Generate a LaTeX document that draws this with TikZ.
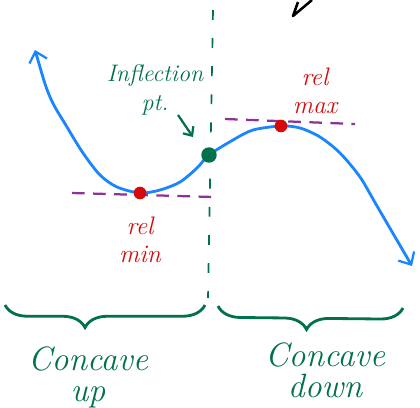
\documentclass[tikz,border=0pt]{standalone}
\usepackage{xcolor}
\usepackage{tikz}
\usetikzlibrary{arrows.meta,decorations.pathreplacing,calc}
\definecolor{curvec}{HTML}{1A85FF}
\definecolor{greenc}{HTML}{00704F}
\definecolor{redc}{HTML}{D50A0A}
\definecolor{purplec}{HTML}{8A3497}
\tikzset{
  barb/.tip={Straight Barb[length=7pt, width=13pt, line width=1.6pt]},
  curve/.style={draw=curvec, line width=2pt, {barb}-{barb}},
  vdash/.style={draw=greenc, line width=1.2pt, dash pattern=on 7pt off 13pt},
  hdash/.style={draw=purplec, line width=1.6pt, dash pattern=on 9pt off 6pt},
  dot/.style={circle, inner sep=0pt, minimum size=9pt},
  reddot/.style={dot, fill=redc},
  greendot/.style={dot, fill=greenc, minimum size=11pt},
  hand/.style={font=\fontsize{17}{21}\selectfont\itshape, align=center},
  bighand/.style={font=\fontsize{24}{22}\selectfont\itshape, align=center, text=greenc},
  brc/.style={draw=greenc, line width=2pt, decorate},
  garrow/.style={draw=greenc, line width=1.6pt, -{Straight Barb[length=5pt, width=9pt]}},
}

\begin{document}
\begin{tikzpicture}[x=0.025cm, y=-0.025cm]
  \useasboundingbox (0,0) rectangle (420,407);
  % dividing line at the inflection point
  \coordinate (vtop) at (213,10);
  \coordinate (vbot) at (208,298);
  \draw[vdash] (vtop) -- (vbot);
  % horizontal tangents
  \coordinate (minl) at (72,193);
  \coordinate (minr) at (213,197);
  \coordinate (maxl) at (225,119);
  \coordinate (maxr) at (355,124);
  \draw[hdash] (minl) -- (minr);
  \draw[hdash] (maxl) -- (maxr);
  % the curve
  \coordinate (cstart) at (35,50);
  \coordinate (pmin) at (140,193);
  \coordinate (pinfl) at (209,155);
  \coordinate (pmax) at (281,126);
  \coordinate (cend) at (412,266);
  \draw[curve] plot[smooth, tension=0.5] coordinates {(cstart) (50,97) (67,127) (83,153) (100,175) (117,187) (pmin) (160,190) (180,182) (197,168) (pinfl) (233,140) (253,130) (pmax) (300,128) (320,137) (340,153) (360,177) (377,206) (cend)};
  \node[reddot] (relmin) at (pmin) {};
  \node[reddot] (relmax) at (pmax) {};
  \node[greendot] (infl) at (pinfl) {};
  % labels
  \node[hand, text=greenc] (ilabel) at (155,90) {Inflection\\pt.};
  \coordinate (atail) at (178,115);
  \coordinate (ahead) at (193,137);
  \draw[garrow] (atail) -- (ahead);
  \node[hand, text=redc, font=\fontsize{18}{20}\selectfont\itshape] (maxlabel) at (315,91) {rel\\max};
  \node[hand, text=redc, font=\fontsize{18}{20}\selectfont\itshape] (minlabel) at (140,240) {rel\\min};
  % braces
  \draw[brc, decoration={brace, mirror, amplitude=16pt, aspect=0.4}] (5,305) -- (205,305);
  \draw[brc, decoration={brace, mirror, amplitude=16pt, aspect=0.48}] (218,306) -- (403,308);
  \node[bighand] (cup) at (88,377) {Concave\\up};
  \node[bighand] (cdown) at (325,370) {Concave\\down};
  % black arrow tip at the top edge
  \coordinate (ktip) at (293,16);
  \draw[line width=1.8pt, line join=round] (298,2) -- (ktip) -- (312,0);
\end{tikzpicture}
\end{document}
